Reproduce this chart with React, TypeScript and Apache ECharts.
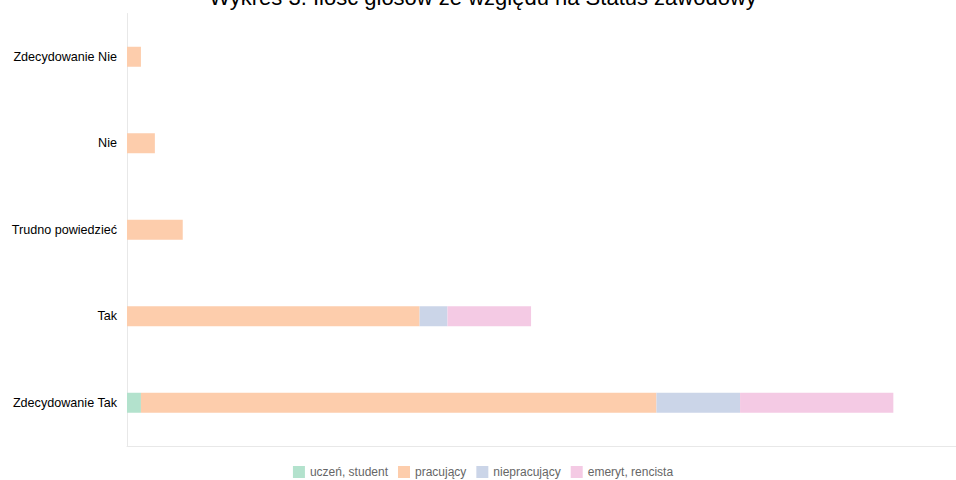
import React, { useEffect, useRef } from "react";
import * as echarts from "echarts";

const title = "Wykres 3. Ilość głosów ze względu na Status zawodowy";
const categories = ["Zdecydowanie Tak", "Tak", "Trudno powiedzieć", "Nie", "Zdecydowanie Nie"];
const seriesNames = ["uczeń, student", "pracujący", "niepracujący", "emeryt, rencista"];
const student = [1, 0, 0, 0, 0];
const pracujacy = [37, 21, 4, 2, 1];
const niepracujacy = [6, 2, 0, 0, 0];
const emeryt = [11, 6, 0, 0, 0];
const colors = ["#b3e2cd", "#fdcdac", "#cbd5e8", "#f4cae4"];

export default function App() {
  const ref = useRef<HTMLDivElement>(null);
  useEffect(() => {
    if (!ref.current) return;
    const chart = echarts.init(ref.current, undefined, { renderer: "svg" });
    const data = [student, pracujacy, niepracujacy, emeryt];
    chart.setOption({
      animation: false,
      color: colors,
      title: {
        text: title,
        left: "center",
        top: -19,
        textStyle: { fontFamily: "Liberation Sans", fontSize: 22, fontWeight: "normal", color: "#000" },
      },
      legend: {
        bottom: -3,
        left: "center",
        icon: "rect",
        itemWidth: 12,
        itemHeight: 12,
        itemGap: 10,
        textStyle: { fontFamily: "Liberation Sans", fontSize: 12, color: "#666" },
        data: seriesNames,
      },
      grid: { left: 127, right: 3, top: 13.5, bottom: 34, containLabel: false },
      xAxis: {
        type: "value",
        min: 0,
        max: 60,
        axisLabel: { show: false },
        axisTick: { show: false },
        splitLine: { show: false },
        axisLine: { show: true, lineStyle: { color: "#e8e8e8" } },
      },
      yAxis: {
        type: "category",
        data: categories,
        axisTick: { show: false },
        axisLine: { show: true, lineStyle: { color: "#e8e8e8" } },
        axisLabel: { fontFamily: "Liberation Sans", fontSize: 12.6, color: "#000", margin: 10 },
      },
      series: seriesNames.map((name, i) => ({
        name,
        type: "bar",
        stack: "total",
        barWidth: 20,
        data: data[i],
        itemStyle: { color: colors[i] },
      })),
    });
    return () => chart.dispose();
  }, []);
  return (
    <div style={{ width: 956, height: 480, overflow: "hidden", position: "absolute", left: 0, top: 0 }}>
      <div ref={ref} style={{ width: 966, height: 480 }} />
    </div>
  );
}
